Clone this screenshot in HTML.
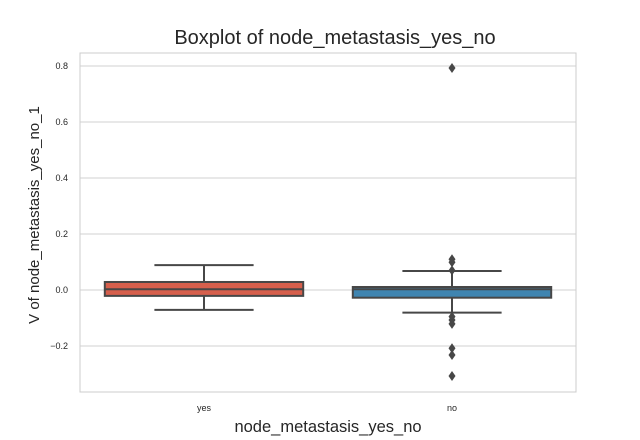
<!DOCTYPE html>
<html><head><meta charset="utf-8"><style>
body{margin:0;background:#fff;}
svg{display:block;font-family:"Liberation Sans","DejaVu Sans",sans-serif;}
</style></head><body>
<svg id="chart" width="640" height="440">
<text x="335" y="44" text-anchor="middle" font-size="20" fill="#262626">Boxplot of node_metastasis_yes_no</text>
<rect x="80" y="53" width="496" height="339" fill="#fff" stroke="#ccc"/>
<g id="grid"></g><g id="marks"></g>
<text x="328" y="432" text-anchor="middle" font-size="16.5" fill="#262626">node_metastasis_yes_no</text>
<text transform="translate(39,215) rotate(-90)" text-anchor="middle" font-size="15" fill="#262626">V of node_metastasis_yes_no_1</text>
</svg>
<script>
const categories=["yes","no"];
const colors=["#d65f4c","#3f85b1"];
const q1=[-0.021,-0.0275];
const median=[0.0025,0.0025];
const q3=[0.0286,0.0107];
const whiskLo=[-0.071,-0.081];
const whiskHi=[0.089,0.068];
const outliersYes=[];
const outliersNo=[0.793,0.11,0.099,0.07,-0.095,-0.107,-0.121,-0.208,-0.232,-0.307];
const yTicks=[0.8,0.6,0.4,0.2,0.0,-0.2];
const yTickLabels=["0.8","0.6","0.4","0.2","0.0","−0.2"];
const NS="http://www.w3.org/2000/svg";
const X0=80,W=496,Ytop=53,Ybot=392,vMax=0.8464,vMin=-0.3643;
function y(v){return Ytop+(vMax-v)/(vMax-vMin)*(Ybot-Ytop);}
function xc(i){return X0+W*(i+0.5)/categories.length;}
function mk(t,a,p){const e=document.createElementNS(NS,t);for(const k in a)e.setAttribute(k,a[k]);(p||document.getElementById('marks')).appendChild(e);return e;}
const grid=document.getElementById('grid'),svg=document.getElementById('chart');
yTicks.forEach((v,i)=>{
 const l=mk('line',{x1:X0,x2:X0+W,y1:y(v),y2:y(v),stroke:'#d0d0d0','stroke-width':1},grid);
 
 
 const t=mk('text',{x:X0-12,y:y(v)+3,'text-anchor':'end','font-size':9,fill:'#262626'},svg);
 t.textContent=yTickLabels[i];
 
 
});
const outs=[outliersYes,outliersNo];
const bw=W/categories.length*0.8;
categories.forEach((c,i)=>{
 const cx=xc(i);
 const g=mk('g',{});
 
 
 const st={stroke:'#474747','stroke-width':2};
 mk('line',Object.assign({x1:cx,x2:cx,y1:y(whiskHi[i]),y2:y(q3[i])},st),g);
 mk('line',Object.assign({x1:cx,x2:cx,y1:y(q1[i]),y2:y(whiskLo[i])},st),g);
 mk('line',Object.assign({x1:cx-bw/4,x2:cx+bw/4,y1:y(whiskHi[i]),y2:y(whiskHi[i])},st),g);
 mk('line',Object.assign({x1:cx-bw/4,x2:cx+bw/4,y1:y(whiskLo[i]),y2:y(whiskLo[i])},st),g);
 mk('rect',Object.assign({x:cx-bw/2,y:y(q3[i]),width:bw,height:y(q1[i])-y(q3[i]),fill:colors[i]},st),g);
 mk('line',Object.assign({x1:cx-bw/2,x2:cx+bw/2,y1:y(median[i]),y2:y(median[i])},st),g);
 outs[i].forEach(v=>{
  const d=mk('path',{d:`M${cx},${y(v)-5} L${cx+3.5},${y(v)} L${cx},${y(v)+5} L${cx-3.5},${y(v)} Z`,fill:'#474747'},g);
  
  
 });
 const t=mk('text',{x:cx,y:411,'text-anchor':'middle','font-size':9,fill:'#262626'},svg);
 t.textContent=c;
 
 
});
</script>
</body></html>
